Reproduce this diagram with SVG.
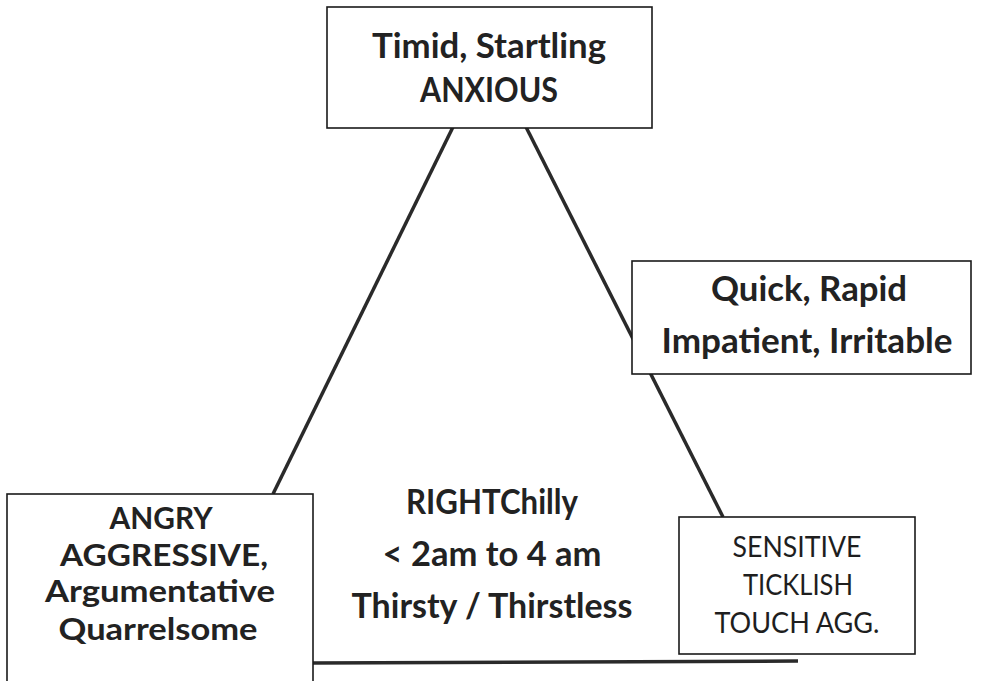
<svg xmlns="http://www.w3.org/2000/svg" width="984" height="681" viewBox="0 0 984 681">
<style>
.box{fill:#fff;stroke:#1a1a1a;stroke-width:1.6}
.b{font-family:Lato,"Open Sans",sans-serif;font-weight:700;font-size:34px;fill:#222;text-anchor:middle}
.s{font-size:31px}
.r{font-family:Lato,"Open Sans",sans-serif;font-weight:400;font-size:28px;fill:#1e1e1e;text-anchor:middle}
.ln{stroke:#2a2a2a;stroke-width:3.5;fill:none}
</style>
<rect width="984" height="681" fill="#fff"/>
<g id="connectors">
<line class="ln" x1="453" y1="127" x2="273" y2="494"/>
<line class="ln" x1="526" y1="127" x2="723" y2="517"/>
<line class="ln" x1="313" y1="663" x2="798" y2="661"/>
</g>
<g id="center-label">
<text class="b" x="492" y="514" textLength="172" lengthAdjust="spacingAndGlyphs">RIGHTChilly</text>
<text class="b" x="492" y="566" textLength="219" lengthAdjust="spacingAndGlyphs">&lt; 2am to 4 am</text>
<text class="b" x="492" y="618" textLength="281" lengthAdjust="spacingAndGlyphs">Thirsty / Thirstless</text>
</g>
<g id="anxious">
<rect class="box" x="327" y="7" width="325" height="121"/>
<text class="b" x="489" y="58" textLength="234" lengthAdjust="spacingAndGlyphs">Timid, Startling</text>
<text class="b" x="489" y="102" textLength="138" lengthAdjust="spacingAndGlyphs">ANXIOUS</text>
</g>
<g id="quick">
<rect class="box" x="632" y="261" width="339" height="113"/>
<text class="b" x="809" y="301" textLength="196" lengthAdjust="spacingAndGlyphs">Quick, Rapid</text>
<text class="b" x="807" y="353" textLength="291" lengthAdjust="spacingAndGlyphs">Impatient, Irritable</text>
</g>
<g id="angry">
<rect class="box" x="7" y="494" width="306" height="200"/>
<text class="b s" x="161" y="529" textLength="103" lengthAdjust="spacingAndGlyphs">ANGRY</text>
<text class="b s" x="164" y="566" textLength="208" lengthAdjust="spacingAndGlyphs">AGGRESSIVE,</text>
<text class="b s" x="160" y="602" textLength="230" lengthAdjust="spacingAndGlyphs">Argumentative</text>
<text class="b s" x="158" y="640" textLength="199" lengthAdjust="spacingAndGlyphs">Quarrelsome</text>
</g>
<g id="sensitive">
<rect class="box" x="679" y="517" width="236" height="137"/>
<text class="r" x="797" y="557" textLength="129" lengthAdjust="spacingAndGlyphs">SENSITIVE</text>
<text class="r" x="798" y="595" textLength="110" lengthAdjust="spacingAndGlyphs">TICKLISH</text>
<text class="r" x="797" y="633" textLength="165" lengthAdjust="spacingAndGlyphs">TOUCH AGG.</text>
</g>
</svg>
